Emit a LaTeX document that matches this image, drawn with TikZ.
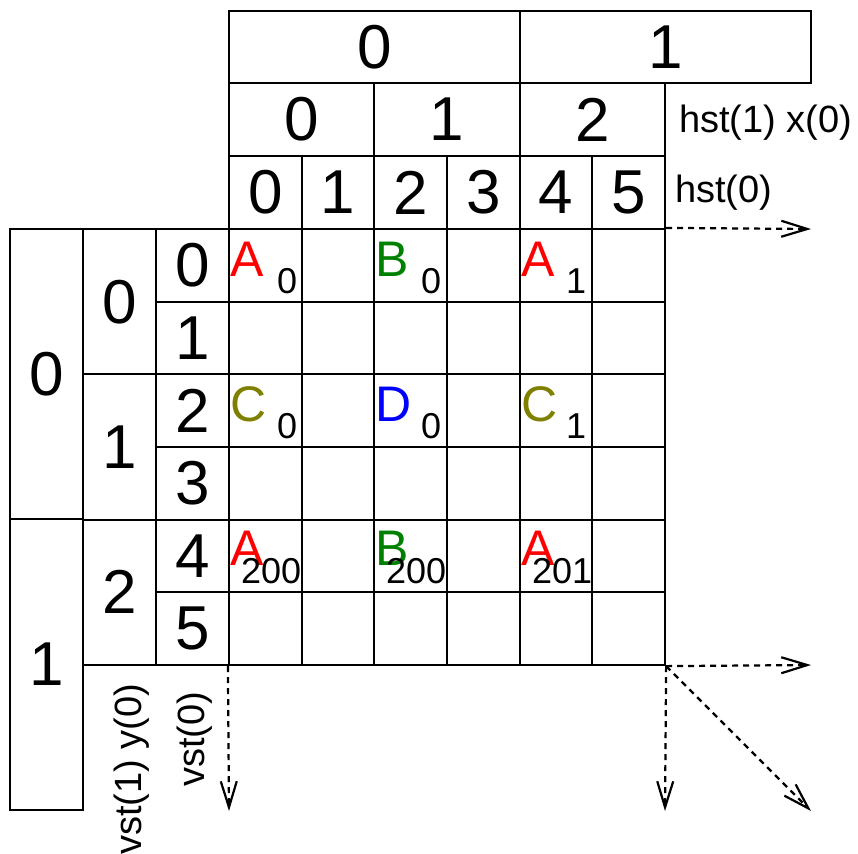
\documentclass[tikz,border=0pt]{standalone}
\usepackage{fontspec}
\setmainfont{Liberation Sans}
\usetikzlibrary{arrows.meta}
\definecolor{olivec}{RGB}{128,128,0}
\definecolor{greenc}{RGB}{0,128,0}
\tikzset{
  cellbox/.style={draw, line width=2.2pt, inner sep=0pt, minimum width=72.67pt, minimum height=72.67pt},
  hdr/.style={draw, line width=2.2pt, inner sep=0pt, font=\fontsize{62}{62}\selectfont},
  big/.style={anchor=base west, inner sep=0pt, font=\fontsize{50}{50}\selectfont},
  sub/.style={anchor=base west, inner sep=0pt, font=\fontsize{36}{36}\selectfont},
  lbl/.style={anchor=base west, inner sep=0pt, font=\fontsize{38}{38}\selectfont},
  dasharrow/.style={line width=2.2pt, dash pattern=on 6pt off 5pt, -{Straight Barb[length=26pt,width=16pt,line width=2.2pt]}}
}
\begin{document}
\begin{tikzpicture}[x=1pt,y=-1pt]
\useasboundingbox (0,0) rectangle (858,853);
% main grid
\foreach \i in {0,...,5}{
  \foreach \j in {0,...,5}{
    \node[cellbox] (c-\i-\j) at ({229+72.67*\i+36.33},{229+72.67*\j+36.33}) {};
  }
}
% top headers
\node[hdr, minimum width=291pt, minimum height=72pt] (t1-0) at (374.5,47) {0};
\node[hdr, minimum width=291pt, minimum height=72pt] (t1-1) at (665.5,47) {1};
\foreach \k in {0,1,2}{
  \node[hdr, minimum width=145.33pt, minimum height=73pt] (t2-\k) at ({229+145.33*\k+72.67},119.5) {\k};
}
\foreach \i in {0,...,5}{
  \node[hdr, minimum width=72.67pt, minimum height=73pt] (t3-\i) at ({229+72.67*\i+36.33},192.5) {\i};
}
% left headers
\node[hdr, minimum width=73pt, minimum height=290pt] (l1-0) at (46.5,374) {0};
\node[hdr, minimum width=73pt, minimum height=291pt] (l1-1) at (46.5,664.5) {1};
\foreach \k in {0,1,2}{
  \node[hdr, minimum width=73pt, minimum height=145.33pt] (l2-\k) at (119.5,{229+145.33*\k+72.67}) {\k};
}
\foreach \j in {0,...,5}{
  \node[hdr, minimum width=73pt, minimum height=72.67pt] (l3-\j) at (192.5,{229+72.67*\j+36.33}) {\j};
}
% cell contents
\node[big, text=red] (a0) at (230,276) {A};
\node[sub] (a0s) at (277,293) {0};
\node[big, text=greenc] (b0) at (375,276) {B};
\node[sub] (b0s) at (421,293) {0};
\node[big, text=red] (a1) at (521,276) {A};
\node[sub] (a1s) at (566,293) {1};
\node[big, text=olivec] (c0) at (230,421) {C};
\node[sub] (c0s) at (277,438) {0};
\node[big, text=blue] (d0) at (375,421) {D};
\node[sub] (d0s) at (421,438) {0};
\node[big, text=olivec] (c1) at (521,421) {C};
\node[sub] (c1s) at (566,438) {1};
\node[big, text=red] (a200) at (230,565) {A};
\node[sub] (a200s) at (241,583) {200};
\node[big, text=greenc] (b200) at (375,565) {B};
\node[sub] (b200s) at (386,583) {200};
\node[big, text=red] (a201) at (521,565) {A};
\node[sub] (a201s) at (532,583) {201};
% labels
\node[lbl] (hst1) at (679,133) {hst(1) x(0)};
\node[lbl] (hst0) at (675,202) {hst(0)};
\node[lbl, rotate=90] (vst1) at (141,855) {vst(1) y(0)};
\node[lbl, rotate=90] (vst0) at (204,787) {vst(0)};
% arrows
\coordinate (ea) at (811,229);
\coordinate (eb) at (811,665);
\coordinate (ec) at (665,811);
\coordinate (ed) at (811,811);
\coordinate (ee) at (229,811);
\draw[dasharrow] (c-5-0.north east) -- (ea);
\draw[dasharrow] (c-5-5.south east) -- (eb);
\draw[dasharrow] (c-5-5.south east) -- (ec);
\draw[dasharrow] (c-5-5.south east) -- (ed);
\draw[dasharrow] (c-0-5.south west) -- (ee);
\end{tikzpicture}
\end{document}
